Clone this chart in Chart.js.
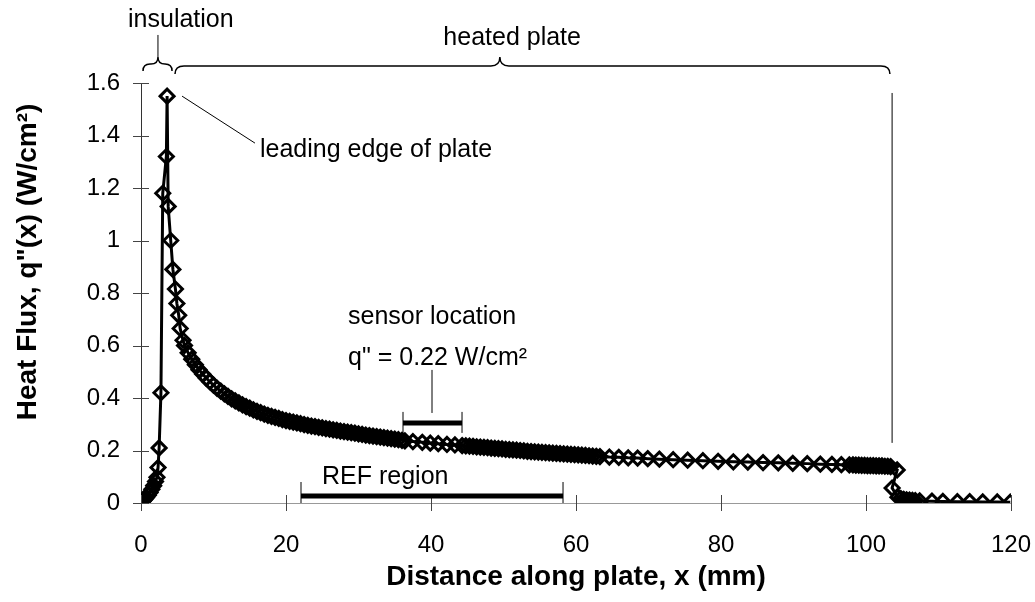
<!DOCTYPE html>
<html>
<head>
<meta charset="utf-8">
<title>Heat flux along plate</title>
<script src="https://cdn.jsdelivr.net/npm/chart.js@4.4.1/dist/chart.umd.min.js"></script>
<style>
  html, body { margin: 0; padding: 0; background: #fff; }
  #chart { display: block; }
</style>
</head>
<body>
<canvas id="chart" width="1035" height="602"></canvas>
<script>
// distance along plate (mm) and heat flux (W/cm2)
const distanceMm = [
  0, 0.25, 0.5, 0.75, 1.0, 1.25, 1.5, 1.75, 2.0, 2.2,
  2.35, 2.5, 2.75, 3.0, 3.5, 3.6, 3.75, 4.1, 4.4, 4.75, 4.95, 5.2, 5.4, 5.8,
  6.0, 6.5, 7.0, 7.5, 8.0, 8.5, 9.0, 9.5, 10.0, 10.5, 11.0, 11.5, 12.0, 12.5, 13.0, 13.5,
  14.0, 14.5, 15.0, 15.5, 16.0, 16.5, 17.0, 17.5, 18.0, 18.5, 19.0, 19.5, 20.0, 20.5,
  21.0, 21.5, 22.0, 22.5, 23.0, 23.5, 24.0, 24.5, 25.0, 25.5, 26.0, 26.5, 27.0, 27.5,
  28.0, 28.5, 29.0, 29.5, 30.0, 30.5, 31.0, 31.5, 32.0, 32.5, 33.0, 33.5, 34.0, 34.5,
  35.0, 35.5, 36.0,
  36.4, 37.5, 38.8, 39.9, 41.0, 42.2, 43.3, 44.3,
  44.8, 45.3, 45.8, 46.3, 46.8, 47.3, 47.8, 48.3, 48.8, 49.3, 49.8, 50.3, 50.8, 51.3,
  51.8, 52.3, 52.8, 53.3, 53.8, 54.3, 54.8, 55.3, 55.8, 56.3, 56.8, 57.3, 57.8, 58.3,
  58.8, 59.3, 59.8, 60.3, 60.8, 61.3, 61.8, 62.3, 62.8,
  63.3, 64.6, 65.9, 67.2, 68.5, 69.9, 71.5, 73.4, 75.4, 77.5, 79.6, 81.7, 83.7, 85.8,
  87.9, 89.9, 91.9, 93.7, 95.3, 96.6, 97.7,
  98.2, 98.6, 99.0, 99.4, 99.8, 100.2, 100.6, 101.0, 101.4, 101.8, 102.2, 102.6, 103.0, 103.4,
  104.3, 103.6, 104.4, 104.8, 105.2, 105.6, 106.0, 106.4, 106.8,
  107.4, 109.1, 110.6, 112.6, 114.3, 116.1, 118.1, 119.9
];
const heatFlux = [
  0.000, 0.006, 0.013, 0.021, 0.030, 0.040, 0.052, 0.066, 0.082, 0.098,
  0.135, 0.21, 0.42, 1.18, 1.32, 1.55, 1.13, 1.00, 0.89, 0.815, 0.76, 0.715, 0.665, 0.62,
  0.600, 0.572, 0.548, 0.527, 0.508, 0.491, 0.476, 0.462, 0.449, 0.437, 0.426, 0.416, 0.406, 0.397, 0.389, 0.381,
  0.374, 0.367, 0.361, 0.355, 0.349, 0.344, 0.339, 0.334, 0.330, 0.326, 0.322, 0.318, 0.314, 0.311,
  0.308, 0.305, 0.302, 0.299, 0.296, 0.293, 0.291, 0.288, 0.286, 0.283, 0.281, 0.279, 0.277, 0.274,
  0.272, 0.270, 0.268, 0.266, 0.263, 0.261, 0.259, 0.257, 0.255, 0.253, 0.251, 0.249, 0.247, 0.245,
  0.243, 0.241, 0.239,
  0.237, 0.234, 0.231, 0.228, 0.226, 0.223, 0.221, 0.219,
  0.218, 0.217, 0.216, 0.214, 0.213, 0.212, 0.211, 0.209, 0.208, 0.207, 0.206, 0.204, 0.203, 0.202,
  0.201, 0.200, 0.199, 0.197, 0.196, 0.195, 0.194, 0.193, 0.192, 0.191, 0.190, 0.189, 0.188, 0.187,
  0.186, 0.185, 0.184, 0.183, 0.182, 0.181, 0.180, 0.179, 0.178,
  0.177, 0.175, 0.174, 0.172, 0.171, 0.169, 0.167, 0.165, 0.163, 0.161, 0.159, 0.157, 0.156, 0.154,
  0.153, 0.151, 0.150, 0.148, 0.147, 0.146, 0.145,
  0.145, 0.144, 0.144, 0.143, 0.143, 0.142, 0.142, 0.142, 0.141, 0.141, 0.141, 0.140, 0.140, 0.139,
  0.126, 0.057, 0.022, 0.017, 0.014, 0.012, 0.011, 0.010, 0.009,
  0.008, 0.007, 0.006, 0.005, 0.005, 0.004, 0.004, 0.003
];

const xTicks = [0, 20, 40, 60, 80, 100, 120];
const yTicks = [0, 0.2, 0.4, 0.6, 0.8, 1.0, 1.2, 1.4, 1.6];
const yTickLabels = ['0', '0.2', '0.4', '0.6', '0.8', '1', '1.2', '1.4', '1.6'];

const FONT = '"Liberation Sans", Arial, sans-serif';

// callouts, in data units (mm, W/cm2)
const braces = [
  { from: 0.28, to: 4.28, tip: 2.34, base: 1.672, ends: 1.646, top: 1.699, r: 7 },
  { from: 4.69, to: 103.3, tip: 49.5, base: 1.665, ends: 1.634, top: 1.699, r: 9 }
];
const labels = [
  { text: 'insulation', x: -1.79, y: 1.840 },
  { text: 'heated plate', x: 41.7, y: 1.771 },
  { text: 'leading edge of plate', x: 16.41, y: 1.345 },
  { text: 'sensor location', x: 28.55, y: 0.709 },
  { text: 'q" = 0.22 W/cm\u00B2', x: 28.55, y: 0.552 },
  { text: 'REF region', x: 24.97, y: 0.099 }
];
const thinLines = [
  [2.34, 1.783, 2.34, 1.699],      // insulation stem
  [103.6, 1.562, 103.6, 0.229],    // end of heated plate
  [5.66, 1.550, 15.72, 1.371],     // leading edge pointer
  [40.14, 0.507, 40.14, 0.343]     // sensor stem
];
const ranges = [
  { from: 36.14, to: 44.28, y: 0.305, capTop: 0.347, capBottom: 0.267 },  // sensor
  { from: 22.07, to: 58.21, y: 0.027, capTop: 0.080, capBottom: 0.0 }      // REF region
];

const points = distanceMm.map((d, i) => ({ x: d, y: heatFlux[i] }));

const decorations = {
  id: 'decorations',
  afterDraw(chart) {
    const ctx = chart.ctx;
    const sx = chart.scales.x, sy = chart.scales.y;
    const px = v => sx.getPixelForValue(v);
    const py = v => sy.getPixelForValue(v);
    ctx.save();

    // ticks that cross the axes
    ctx.strokeStyle = '#444';
    ctx.lineWidth = 1;
    yTicks.forEach(v => {
      const yy = Math.round(py(v)) + 0.5;
      ctx.beginPath();
      ctx.moveTo(sx.left - 8, yy);
      ctx.lineTo(sx.left + 8, yy);
      ctx.stroke();
    });
    xTicks.forEach(v => {
      const xx = Math.round(px(v)) + 0.5;
      ctx.beginPath();
      ctx.moveTo(xx, sy.bottom - 8);
      ctx.lineTo(xx, sy.bottom + 8);
      ctx.stroke();
    });

    // braces
    ctx.strokeStyle = '#000';
    ctx.lineWidth = 1.5;
    braces.forEach(b => {
      const x0 = px(b.from), x1 = px(b.to), xt = px(b.tip);
      const yb = py(b.base), ye = py(b.ends), yt = py(b.top);
      ctx.beginPath();
      ctx.moveTo(x0, ye);
      ctx.quadraticCurveTo(x0, yb, x0 + b.r, yb);
      ctx.lineTo(xt - b.r, yb);
      ctx.quadraticCurveTo(xt, yb, xt, yt);
      ctx.quadraticCurveTo(xt, yb, xt + b.r, yb);
      ctx.lineTo(x1 - b.r, yb);
      ctx.quadraticCurveTo(x1, yb, x1, ye);
      ctx.stroke();
    });

    ctx.lineWidth = 1;
    thinLines.forEach(l => {
      ctx.beginPath();
      ctx.moveTo(px(l[0]), py(l[1]));
      ctx.lineTo(px(l[2]), py(l[3]));
      ctx.stroke();
    });

    ranges.forEach(r => {
      ctx.lineWidth = 5;
      ctx.beginPath();
      ctx.moveTo(px(r.from), py(r.y));
      ctx.lineTo(px(r.to), py(r.y));
      ctx.stroke();
      ctx.lineWidth = 1;
      [r.from, r.to].forEach(e => {
        ctx.beginPath();
        ctx.moveTo(px(e), py(r.capTop));
        ctx.lineTo(px(e), py(r.capBottom));
        ctx.stroke();
      });
    });

    ctx.fillStyle = '#000';
    ctx.font = '25px ' + FONT;
    ctx.textAlign = 'left';
    ctx.textBaseline = 'middle';
    labels.forEach(t => ctx.fillText(t.text, px(t.x), py(t.y)));

    // y axis title
    ctx.translate(28, 262);
    ctx.rotate(-Math.PI / 2);
    ctx.textAlign = 'center';
    ctx.font = 'bold 28px ' + FONT;
    ctx.fillText('Heat Flux, q"(x) (W/cm\u00B2)', 0, 0);
    ctx.restore();
  }
};

new Chart(document.getElementById('chart'), {
  type: 'scatter',
  data: {
    datasets: [{
      data: points,
      showLine: true,
      borderColor: '#000',
      borderWidth: 3,
      tension: 0,
      pointStyle: 'rectRot',
      pointRadius: 7,
      pointBorderWidth: 3,
      pointBorderColor: '#000',
      pointBackgroundColor: 'rgba(0,0,0,0)'
    }]
  },
  options: {
    responsive: false,
    animation: false,
    layout: { padding: { top: 83, right: 0, left: 0, bottom: 0 } },
    plugins: { legend: { display: false }, tooltip: { enabled: false } },
    scales: {
      x: {
        type: 'linear',
        min: 0,
        max: 120,
        afterFit: s => { s.height = 99; s.paddingRight = 24; },
        afterBuildTicks: s => { s.ticks = xTicks.map(v => ({ value: v })); },
        ticks: { color: '#000', font: { family: FONT, size: 24 }, padding: 28, maxRotation: 0 },
        grid: { display: false, drawTicks: false },
        border: { color: '#999', width: 1 },
        title: {
          display: true,
          text: 'Distance along plate, x (mm)',
          color: '#000',
          font: { family: FONT, size: 28, weight: 'bold' },
          padding: { top: 0, bottom: 8 }
        }
      },
      y: {
        min: 0,
        max: 1.6,
        afterFit: s => { s.width = 141; },
        afterBuildTicks: s => { s.ticks = yTicks.map(v => ({ value: v })); },
        ticks: {
          color: '#000',
          font: { family: FONT, size: 24 },
          padding: 21,
          callback: (v, i) => yTickLabels[i]
        },
        grid: { display: false, drawTicks: false },
        border: { color: '#333', width: 1 }
      }
    }
  },
  plugins: [decorations]
});
</script>
</body>
</html>
